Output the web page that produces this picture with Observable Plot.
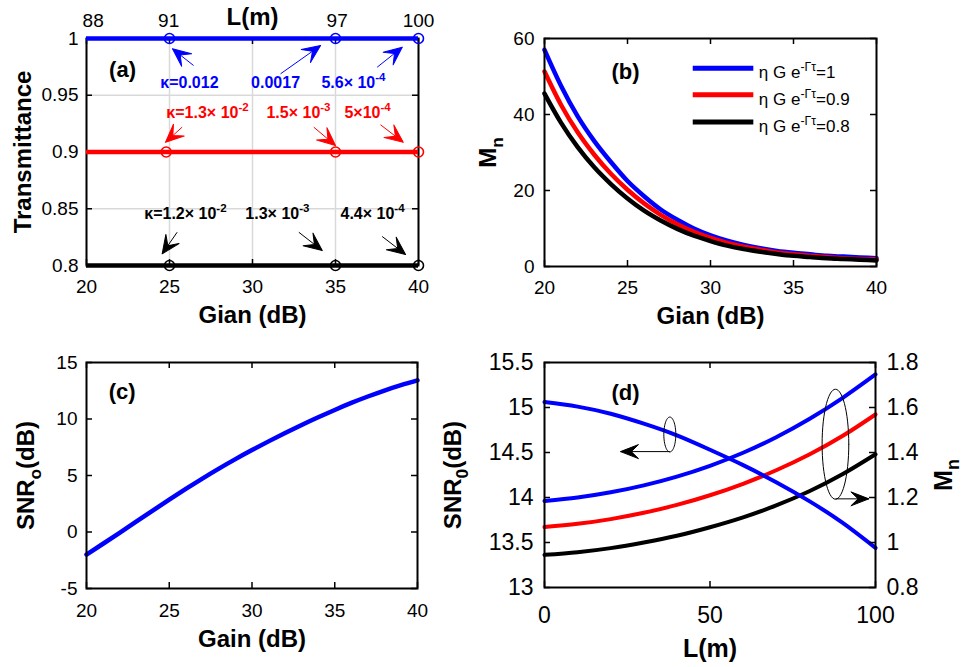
<!DOCTYPE html>
<html><head><meta charset="utf-8">
<script src="https://cdn.jsdelivr.net/npm/d3@7"></script>
<script src="https://cdn.jsdelivr.net/npm/@observablehq/plot@0.6"></script>
<style>
body{margin:0;background:#fff}
#chart{position:relative;width:969px;height:667px;background:#fff;overflow:hidden}
#chart svg{position:absolute;overflow:visible;max-width:none}
</style></head><body><div id="chart"></div>
<script>
// ---------------- data ----------------
const gainTicks = [20, 25, 30, 35, 40];

// (a) transmittance vs gain
const aColors = ["blue", "red", "black"];
const aTrans = [1, 0.9, 0.8];
const aCircleGain = [[25, 35, 40], [24.8, 35, 40], [25, 35, 40]];
const aYTicks = [0.8, 0.85, 0.9, 0.95, 1];
const aTopLabelGain = [20.4, 24.95, 35.1, 40];
const aTopLabels = ["88", "91", "97", "100"];
const aNoteText = ["κ=0.012", "0.0017", "5.6× 10^{-4}", "κ=1.3× 10^{-2}", "1.5× 10^{-3}", "5×10^{-4}", "κ=1.2× 10^{-2}", "1.3× 10^{-3}", "4.4× 10^{-4}"];
const aNoteColor = ["blue", "blue", "blue", "red", "red", "red", "black", "black", "black"];
const aNoteGain = [26.2, 31.39, 36.08, 27.29, 32.77, 36.93, 25.96, 31.5, 37.23];
const aNoteT = [0.9612, 0.9612, 0.9612, 0.9348, 0.9348, 0.9348, 0.8458, 0.8458, 0.8458];
const aArrowGain1 = [26.45, 31.69, 37.51, 25.76, 33.69, 37.71, 25.46, 32.79, 37.81];
const aArrowT1 = [0.9762, 0.9689, 0.9747, 0.9219, 0.9219, 0.924, 0.8293, 0.8293, 0.8256];
const aArrowGain2 = [25.18, 34.1, 39.02, 24.76, 35.0, 39.08, 24.56, 34.2, 39.22];
const aArrowT2 = [0.9909, 0.9938, 0.9923, 0.9086, 0.9057, 0.9086, 0.8103, 0.8132, 0.8097];

// (b) Mn vs gain
const bGain = [20,21,22,23,24,25,26,27,28,29,30,31,32,33,34,35,36,37,38,39,40];
const bBlue  = [57.0,47.5,39.5,33.0,27.5,22.5,18.5,15.0,12.3,10.0,8.2,6.8,5.7,4.8,4.1,3.6,3.2,2.8,2.6,2.4,2.2];
const bRed   = [51.3,42.5,35.3,29.4,24.4,20.2,16.6,13.6,11.1,9.1,7.5,6.2,5.2,4.4,3.7,3.2,2.8,2.5,2.2,2.0,1.9];
const bBlack = [45.5,37.8,31.4,26.1,21.7,17.9,14.7,12.1,9.9,8.1,6.7,5.5,4.6,3.9,3.3,2.8,2.5,2.2,2.0,1.8,1.6];
const bYTicks = [0, 20, 40, 60];
const bLegendLabels = ["η G e^{-Γτ}=1", "η G e^{-Γτ}=0.9", "η G e^{-Γτ}=0.8"];
const bLegendColors = ["blue", "red", "black"];
const bLegendY = [52.2, 45.2, 38.0];
const bLegendX1 = 28.96, bLegendX2 = 32.61, bLegendTextX = 32.91;

// (c) SNR vs gain
const cGain = [20,21,22,23,24,25,26,27,28,29,30,31,32,33,34,35,36,37,38,39,40];
const cSNR = [-2.0,-1.04,-0.07,0.91,1.89,2.86,3.81,4.73,5.61,6.45,7.25,8.02,8.76,9.47,10.15,10.8,11.42,11.99,12.52,13.0,13.42];
const cYTicks = [-5, 0, 5, 10, 15];

// (d) SNR and Mn vs L
const dL = [0,10,20,30,40,50,60,70,80,90,100];
const dSNR = [15.06,15.01,14.93,14.82,14.69,14.53,14.36,14.17,13.96,13.72,13.44];
const dMnBlue  = [1.184,1.200,1.223,1.254,1.293,1.341,1.399,1.468,1.549,1.642,1.747];
const dMnRed   = [1.069,1.083,1.104,1.132,1.167,1.21,1.261,1.321,1.391,1.473,1.569];
const dMnBlack = [0.945,0.957,0.975,1.0,1.03,1.068,1.112,1.165,1.228,1.303,1.392];
const dXTicks = [0, 50, 100];
const dLeftTicks = [13, 13.5, 14, 14.5, 15, 15.5];
const dRightTicks = [0.8, 1, 1.2, 1.4, 1.6, 1.8];
// annotation ellipses (center L, center SNR, radius L, radius SNR) and arrows
const dEllCx = [37.86, 87.9], dEllCy = [14.70, 14.592], dEllRx = [1.81, 4.03], dEllRy = [0.194, 0.611];
const dArrowL1 = [37.86, 87.9], dArrowL2 = [22.96, 98.0], dArrowY = [14.51, 13.985];

// ---------------- helpers ----------------
const FONT = '"Liberation Sans", Arial, Helvetica, sans-serif';
const chart = document.getElementById("chart");
const NS = "http://www.w3.org/2000/svg";
let uid = 0;

function place(svg, left, top) {
  svg.style.left = left + "px"; svg.style.top = top + "px";
  chart.appendChild(svg); return svg;
}
function baseStyle(fs) {
  return {fontFamily: FONT, fontSize: fs + "px", background: "transparent", overflow: "visible", color: "black"};
}
function frameTicks(xt, yt, ih, iw, len = 6) {
  const st = {stroke: "black", strokeWidth: 1.5};
  return [
    Plot.tickX(xt, {x: d => d, insetTop: ih - len, ...st}),
    Plot.tickX(xt, {x: d => d, insetBottom: ih - len, ...st}),
    Plot.tickY(yt, {y: d => d, insetRight: iw - len, ...st}),
    Plot.tickY(yt, {y: d => d, insetLeft: iw - len, ...st})
  ];
}
// title text helper: centered both ways
function title(str, opts) {
  return Plot.text([str], {text: d => d, textAnchor: "middle", lineAnchor: "middle", fontWeight: "bold", fontSize: 24, ...opts});
}
function richify(root) {
  root.querySelectorAll("text").forEach(t => {
    const s = t.textContent;
    if (!/[\^_]\{/.test(s)) return;
    const fs = parseFloat(getComputedStyle(t).fontSize) || 16;
    while (t.firstChild) t.removeChild(t.firstChild);
    let cur = 0, last = 0, m;
    const re = /([\^_])\{([^}]*)\}/g;
    const add = (txt, target, scale) => {
      const ts = document.createElementNS(NS, "tspan");
      ts.textContent = txt;
      const d = target - cur;
      if (d) ts.setAttribute("dy", d.toFixed(2));
      cur = target;
      if (scale !== 1) ts.setAttribute("font-size", (fs * scale).toFixed(2));
      t.appendChild(ts);
    };
    while ((m = re.exec(s))) {
      if (m.index > last) add(s.slice(last, m.index), 0, 1);
      add(m[2], m[1] === "^" ? -0.42 * fs : 0.28 * fs, 0.72);
      last = re.lastIndex;
    }
    if (last < s.length) add(s.slice(last), 0, 1);
  });
}
function arrowheads(svg, len, hw, notch) {
  let defs = document.createElementNS(NS, "defs");
  svg.insertBefore(defs, svg.firstChild);
  svg.querySelectorAll('g[aria-label="link"] path').forEach(p => {
    const color = p.getAttribute("stroke") || p.parentNode.getAttribute("stroke") || "black";
    const id = "ah" + (uid++);
    const mk = document.createElementNS(NS, "marker");
    mk.setAttribute("id", id);
    mk.setAttribute("viewBox", `${-len - 2} ${-hw - 2} ${len + 4} ${2 * hw + 4}`);
    mk.setAttribute("refX", 0); mk.setAttribute("refY", 0);
    mk.setAttribute("markerWidth", len + 4); mk.setAttribute("markerHeight", 2 * hw + 4);
    mk.setAttribute("markerUnits", "userSpaceOnUse");
    mk.setAttribute("orient", "auto");
    mk.setAttribute("overflow", "visible");
    const path = document.createElementNS(NS, "path");
    path.setAttribute("d", `M0,0L${-len},${-hw}L${-notch * len},0L${-len},${hw}Z`);
    path.setAttribute("fill", color);
    path.setAttribute("stroke", color);
    path.setAttribute("stroke-width", 1);
    path.setAttribute("stroke-linejoin", "round");
    mk.appendChild(path); defs.appendChild(mk);
    p.setAttribute("marker-end", `url(#${id})`);
  });
}
const fmt = d => String(d);
const idx = n => d3.range(n);

// ---------------- panel (a) ----------------
{
  const W = 480, H = 335, m = {t: 38, r: 62, b: 70, l: 86};
  const ih = H - m.t - m.b, iw = W - m.l - m.r;
  const circles = [];
  aCircleGain.forEach((gs, s) => gs.forEach(g => circles.push({g, t: aTrans[s], c: aColors[s]})));
  const marks = [
    Plot.ruleX(gainTicks, {x: d => d, stroke: "#d9d9d9", strokeWidth: 1.5}),
    Plot.ruleY(aYTicks, {y: d => d, stroke: "#d9d9d9", strokeWidth: 1.5}),
    Plot.frame({stroke: "black", strokeWidth: 2}),
    ...frameTicks(gainTicks, aYTicks, ih, iw),
    Plot.axisX({ticks: gainTicks, tickFormat: fmt, tickSize: 0, tickPadding: 14, label: null, fontSize: 19}),
    Plot.axisY({ticks: aYTicks, tickFormat: fmt, tickSize: 0, tickPadding: 8, label: null, fontSize: 19}),
    Plot.text(aTopLabels, {x: (d, i) => aTopLabelGain[i], text: d => d, frameAnchor: "top", lineAnchor: "middle", dy: -18, fontSize: 19}),
    title("L(m)", {frameAnchor: "top", dy: -21}),
    title("Gian (dB)", {frameAnchor: "bottom", dy: 50}),
    title("Transmittance", {frameAnchor: "left", dx: -63, rotate: -90}),
    Plot.text(["(a)"], {x: 22.17, y: 0.972, text: d => d, fontSize: 22, fontWeight: "bold"})
  ];
  aColors.forEach((c, s) => {
    marks.push(Plot.ruleY([aTrans[s]], {y: d => d, stroke: c, strokeWidth: 4.5}));
  });
  aColors.forEach(c => {
    marks.push(Plot.dot(circles.filter(d => d.c === c), {x: "g", y: "t", r: 5, stroke: c, strokeWidth: 1.6, fill: "none"}));
    const ii = idx(aNoteText.length).filter(i => aNoteColor[i] === c);
    marks.push(Plot.text(ii, {x: i => aNoteGain[i], y: i => aNoteT[i], text: i => aNoteText[i], fill: c, fontSize: 16, fontWeight: "bold"}));
    marks.push(Plot.link(ii, {x1: i => aArrowGain1[i], y1: i => aArrowT1[i], x2: i => aArrowGain2[i], y2: i => aArrowT2[i], stroke: c, strokeWidth: 1}));
  });
  const svg = Plot.plot({width: W, height: H, marginTop: m.t, marginRight: m.r, marginBottom: m.b, marginLeft: m.l,
    x: {domain: [20, 40]}, y: {domain: [0.8, 1]}, style: baseStyle(19), marks});
  place(svg, 0, 0);
  arrowheads(svg, 18, 8, 0.55);
}

// ---------------- panel (b) ----------------
{
  const W = 489, H = 335, m = {t: 38, r: 93, b: 69, l: 64};
  const ih = H - m.t - m.b, iw = W - m.l - m.r;
  const series = [bBlue, bRed, bBlack], cols = ["blue", "red", "black"];
  const marks = [
    ...series.map((s, k) => Plot.line(bGain, {x: d => d, y: (d, i) => s[i], stroke: cols[k], strokeWidth: 4.5, curve: "monotone-x"})),
    Plot.frame({stroke: "black", strokeWidth: 2}),
    ...frameTicks(gainTicks, bYTicks, ih, iw),
    Plot.axisX({ticks: gainTicks, tickFormat: fmt, tickSize: 0, tickPadding: 14, label: null, fontSize: 19}),
    Plot.axisY({ticks: bYTicks, tickFormat: fmt, tickSize: 0, tickPadding: 10, label: null, fontSize: 19}),
    title("Gian (dB)", {frameAnchor: "bottom", dy: 50}),
    title("M_{n}", {frameAnchor: "left", dx: -56, rotate: -90}),
    Plot.text(["(b)"], {x: 24.88, y: 51.2, text: d => d, fontSize: 22, fontWeight: "bold"}),
    ...bLegendLabels.map((lab, i) => Plot.ruleY([bLegendY[i]], {y: d => d, x1: () => bLegendX1, x2: () => bLegendX2, stroke: bLegendColors[i], strokeWidth: 5})),
    Plot.text(bLegendLabels, {x: () => bLegendTextX, y: (d, i) => bLegendY[i], text: d => d, textAnchor: "start", dy: 4.5, fontSize: 17})
  ];
  const svg = Plot.plot({width: W, height: H, marginTop: m.t, marginRight: m.r, marginBottom: m.b, marginLeft: m.l,
    x: {domain: [20, 40]}, y: {domain: [0, 60]}, style: baseStyle(19), marks});
  place(svg, 480, 0);
}

// ---------------- panel (c) ----------------
{
  const W = 480, H = 337, m = {t: 32, r: 63, b: 79, l: 86};
  const ih = H - m.t - m.b, iw = W - m.l - m.r;
  const marks = [
    Plot.line(cGain, {x: d => d, y: (d, i) => cSNR[i], stroke: "blue", strokeWidth: 4.5, curve: "natural"}),
    Plot.frame({stroke: "black", strokeWidth: 2}),
    ...frameTicks(gainTicks, cYTicks, ih, iw),
    Plot.axisX({ticks: gainTicks, tickFormat: fmt, tickSize: 0, tickPadding: 15, label: null, fontSize: 19}),
    Plot.axisY({ticks: cYTicks, tickFormat: fmt, tickSize: 0, tickPadding: 9, label: null, fontSize: 19}),
    title("Gain (dB)", {frameAnchor: "bottom", dy: 51}),
    title("SNR_{o}(dB)", {frameAnchor: "left", dx: -60, rotate: -90}),
    Plot.text(["(c)"], {x: 22.15, y: 12.43, text: d => d, fontSize: 22, fontWeight: "bold"})
  ];
  const svg = Plot.plot({width: W, height: H, marginTop: m.t, marginRight: m.r, marginBottom: m.b, marginLeft: m.l,
    x: {domain: [20, 40]}, y: {domain: [-5, 15]}, style: baseStyle(19), marks});
  place(svg, 0, 330);
}

// ---------------- panel (d) ----------------
{
  const W = 489, H = 337, m = {t: 32, r: 94, b: 80, l: 64};
  const ih = H - m.t - m.b, iw = W - m.l - m.r;
  const common = {width: W, height: H, marginTop: m.t, marginRight: m.r, marginBottom: m.b, marginLeft: m.l};
  // right axis (Mn) layer
  const mn = [dMnBlue, dMnRed, dMnBlack], cols = ["blue", "red", "black"];
  const svgR = Plot.plot({...common, x: {domain: [0, 100], axis: null}, y: {domain: [0.8, 1.8]}, style: baseStyle(23), marks: [
    ...mn.map((s, k) => Plot.line(dL, {x: d => d, y: (d, i) => s[i], stroke: cols[k], strokeWidth: 4, curve: "natural"})),
    Plot.axisY({anchor: "right", ticks: dRightTicks, tickFormat: fmt, tickSize: 0, tickPadding: 11, label: null, fontSize: 23}),
    title("M_{n}", {frameAnchor: "right", dx: 68, rotate: -90, fontSize: 25})
  ]});
  place(svgR, 480, 330);
  // left axis (SNR) layer
  const ell = [];
  dEllCx.forEach((cx, k) => d3.range(0, 361, 6).forEach(a => ell.push({k, L: cx + dEllRx[k] * Math.cos(a * Math.PI / 180), y: dEllCy[k] + dEllRy[k] * Math.sin(a * Math.PI / 180)})));
  const svgL = Plot.plot({...common, x: {domain: [0, 100]}, y: {domain: [13, 15.5]}, style: baseStyle(23), marks: [
    Plot.line(dL, {x: d => d, y: (d, i) => dSNR[i], stroke: "blue", strokeWidth: 4, curve: "natural"}),
    Plot.frame({stroke: "black", strokeWidth: 2}),
    ...frameTicks(dXTicks, dLeftTicks, ih, iw),
    Plot.axisX({ticks: dXTicks, tickFormat: fmt, tickSize: 0, tickPadding: 19, label: null, fontSize: 23}),
    Plot.axisY({ticks: dLeftTicks, tickFormat: fmt, tickSize: 0, tickPadding: 11, label: null, fontSize: 23}),
    title("L(m)", {frameAnchor: "bottom", dy: 61, fontSize: 25}),
    title("SNR_{0}(dB)", {frameAnchor: "left", dx: -91, rotate: -90}),
    Plot.text(["(d)"], {x: 24.5, y: 15.16, text: d => d, fontSize: 22, fontWeight: "bold"}),
    Plot.line(ell, {x: "L", y: "y", z: "k", stroke: "black", strokeWidth: 1, curve: "linear"}),
    Plot.link(idx(2), {x1: i => dArrowL1[i], y1: i => dArrowY[i], x2: i => dArrowL2[i], y2: i => dArrowY[i], stroke: "black", strokeWidth: 1})
  ]});
  place(svgL, 480, 330);
  arrowheads(svgL, 18, 7, 0.6);
}

richify(chart);
</script></body></html>
